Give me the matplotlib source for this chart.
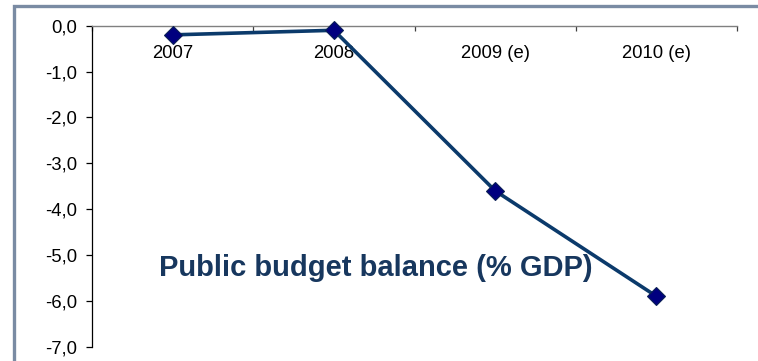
import matplotlib
matplotlib.use("Agg")
from matplotlib import pyplot as plt
from matplotlib.patches import Rectangle
from matplotlib.ticker import FuncFormatter

# Public budget balance, % of GDP (e = estimate)
years = ['2007', '2008', '2009 (e)', '2010 (e)']
balance = [-0.2, -0.1, -3.6, -5.9]
y_ticks = [0, -1, -2, -3, -4, -5, -6, -7]

plt.rcParams['font.family'] = ['Liberation Sans', 'DejaVu Sans']

fig = plt.figure(figsize=(7.58, 3.61), dpi=100)
fig.patch.set_facecolor('white')

# slide-style frame round the chart area
frame = Rectangle((13.5 / 758, -0.2), 1.2, 1.2 - 6.3 / 361,
                  transform=fig.transFigure, fill=False,
                  edgecolor='#7a8ba3', linewidth=2.4, clip_on=False)
fig.add_artist(frame)

ax = fig.add_axes([92 / 758, 1 - 346.7 / 361, (737 - 92) / 758, (346.7 - 25.7) / 361])

pos = [i + 0.5 for i in range(len(years))]
ax.plot(pos, balance, color='#0b3a6b', linewidth=2.6, zorder=3,
        marker='D', markersize=9.5, markerfacecolor='#00007f',
        markeredgecolor='#0a1f55', markeredgewidth=0.8, clip_on=False)

ax.set_xlim(0, len(years))
ax.set_ylim(-7, 0)

# category axis crosses at zero, which is the top of the plot
ax.spines['bottom'].set_position(('data', 0))
ax.spines['bottom'].set_color('#808080')
ax.spines['bottom'].set_linewidth(1.0)
ax.spines['top'].set_visible(False)
ax.spines['right'].set_visible(False)
ax.spines['left'].set_linewidth(0.9)

ax.set_xticks(range(len(years) + 1))
ax.set_xticklabels([])
ax.set_xticks(pos, minor=True)
ax.set_xticklabels(years, minor=True)
ax.tick_params(axis='x', which='major', direction='out', length=3.8,
               width=0.9, color='#404040')
ax.tick_params(axis='x', which='minor', length=0, pad=14, labelsize=13.3)

ax.set_yticks(y_ticks)
ax.yaxis.set_major_formatter(FuncFormatter(lambda v, p: ('%.1f' % v).replace('.', ',')))
ax.tick_params(axis='y', direction='out', length=4.3, width=0.9,
               pad=6.5, labelsize=13.3)

fig.text(159 / 758, 1 - 268 / 361, 'Public budget balance (% GDP)',
         fontsize=21, fontweight='bold', color='#17375e',
         ha='left', va='center')

fig.savefig('out.png', dpi=100)
